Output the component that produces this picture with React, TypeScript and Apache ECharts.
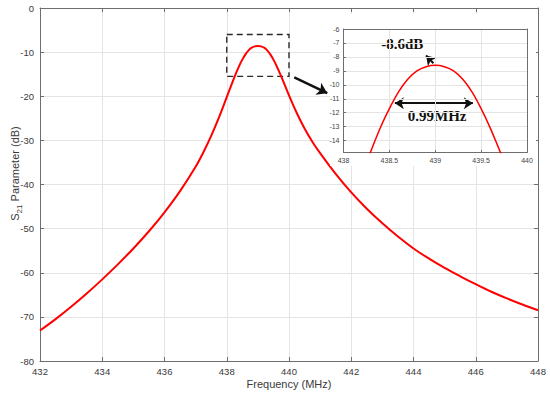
import React, { useEffect, useRef } from "react";
import * as echarts from "echarts";

// ---- data ----
const FREQ = [
  432.0, 432.5, 433.0, 433.5, 434.0, 434.5, 435.0, 435.5, 436.0, 436.5, 437.0, 437.25, 437.5, 437.75,
  438.0, 438.25, 438.4, 438.5, 438.6, 438.7, 438.8, 438.9, 439.0, 439.1, 439.2, 439.3, 439.4, 439.5,
  439.6, 439.75, 440.0, 440.25, 440.5, 440.75, 441.0, 441.5, 442.0, 442.5, 443.0, 443.5, 444.0,
  444.5, 445.0, 445.5, 446.0, 446.5, 447.0, 447.5, 448.0,
];
const S21 = [
  -73.1, -70.5, -67.7, -64.7, -61.5, -58.1, -54.5, -50.6, -46.3, -41.5, -36.0, -32.7, -29.0, -24.8,
  -20.2, -15.6, -13.1, -11.7, -10.5, -9.6, -9.0, -8.7, -8.6, -8.7, -9.0, -9.6, -10.5, -11.7,
  -13.1, -15.5, -19.8, -23.8, -27.3, -30.3, -32.9, -37.6, -41.8, -45.5, -48.8, -51.8, -54.5,
  -56.8, -58.9, -60.8, -62.6, -64.3, -65.8, -67.2, -68.5,
];

const MAIN_X = [432, 448, 2];
const MAIN_Y = [-80, 0, 10];
const INSET_X = [438, 440, 0.5];
const INSET_Y = [-14.85, -6];
const INSET_Y_TICKS = [-14, -13, -12, -11, -10, -9, -8, -7, -6];
const ZOOM_BOX = [438, 440, -6, -15.5];
const ZOOM_ARROW = [[440.17, -15.7], [441.23, -19.3]];
const PEAK_ARROW = [[438.98, -8.45], [438.9, -7.9]];
const BW_ARROW = [[438.56, -11.32], [439.41, -11.32]];
const PEAK_LABEL = { text: "-8.6dB", at: [438.64, -7.1] };
const BW_LABEL = { text: "0.99MHz", at: [439.02, -12.23] };

const SANS = "'Liberation Sans', Arial, sans-serif";
const SERIF = "'Liberation Serif', 'Times New Roman', serif";
const AXIS = "#6e6e6e";
const GRIDC = "#e4e4e4";
const TXT = "#3a3a3a";

export default function App() {
  const ref = useRef<HTMLDivElement>(null);
  useEffect(() => {
    if (!ref.current) return;
    const chart = echarts.init(ref.current, undefined, { renderer: "svg" });
    const pts = FREQ.map((f, i) => [f, S21[i]]);

    const mainAxisCommon = {
      axisLine: { show: true, onZero: false, lineStyle: { color: AXIS, width: 1 } },
      axisTick: { show: true, inside: true, length: 4, lineStyle: { color: AXIS } },
    };
    const insetAxisCommon = {
      axisLine: { show: true, onZero: false, lineStyle: { color: AXIS, width: 1 } },
      axisTick: { show: true, inside: true, length: 2.5, lineStyle: { color: AXIS } },
    };

    chart.setOption({
      animation: false,
      backgroundColor: "#fff",
      grid: [
        { left: 40, top: 8, width: 498, height: 353, show: false, containLabel: false, outerBoundsMode: "none" },
        { left: 343.5, top: 29, width: 183.5, height: 123.5, show: false, z: 10, containLabel: false, outerBoundsMode: "none" },
      ],
      xAxis: [
        {
          type: "value", gridIndex: 0, position: "bottom", min: MAIN_X[0], max: MAIN_X[1], interval: MAIN_X[2],
          ...mainAxisCommon,
          axisLabel: { color: TXT, fontSize: 9.5, fontFamily: SANS, margin: 5 },
          splitLine: { show: true, lineStyle: { color: GRIDC, width: 1 } },
          name: "Frequency (MHz)", nameLocation: "middle", nameGap: 17, nameMoveOverlap: false,
          nameTextStyle: { color: TXT, fontSize: 11, fontFamily: SANS },
        },
        {
          type: "value", gridIndex: 0, position: "top", min: MAIN_X[0], max: MAIN_X[1], interval: MAIN_X[2],
          ...mainAxisCommon, axisLabel: { show: false }, splitLine: { show: false },
        },
        {
          type: "value", gridIndex: 1, position: "bottom", min: INSET_X[0], max: INSET_X[1], interval: INSET_X[2],
          ...insetAxisCommon, z: 10,
          axisLabel: { color: "#444", fontSize: 7, fontFamily: SANS, margin: 4 },
          splitLine: { show: true, lineStyle: { color: GRIDC, width: 1 } },
        },
        {
          type: "value", gridIndex: 1, position: "top", min: INSET_X[0], max: INSET_X[1], interval: INSET_X[2],
          ...insetAxisCommon, z: 10, axisTick: { show: false }, axisLabel: { show: false }, splitLine: { show: false },
        },
      ],
      yAxis: [
        {
          type: "value", gridIndex: 0, position: "left", min: MAIN_Y[0], max: MAIN_Y[1], interval: MAIN_Y[2],
          ...mainAxisCommon,
          axisLabel: { color: TXT, fontSize: 9.5, fontFamily: SANS, margin: 6 },
          splitLine: { show: true, lineStyle: { color: GRIDC, width: 1 } },
          name: "{s|S}{sub|21}{s| Parameter (dB)}", nameLocation: "middle", nameGap: 17, nameRotate: 90,
          nameMoveOverlap: false,
          nameTextStyle: {
            color: TXT, fontFamily: SANS, padding: [0, 0, 0, 22],
            rich: {
              s: { fontSize: 11, color: TXT, fontFamily: SANS, lineHeight: 16, verticalAlign: "middle" },
              sub: { fontSize: 8, color: TXT, fontFamily: SANS, lineHeight: 16, verticalAlign: "bottom" },
            },
          },
        },
        {
          type: "value", gridIndex: 0, position: "right", min: MAIN_Y[0], max: MAIN_Y[1], interval: MAIN_Y[2],
          ...mainAxisCommon, axisLabel: { show: false }, splitLine: { show: false },
        },
        {
          type: "value", gridIndex: 1, position: "left", min: INSET_Y[0], max: INSET_Y[1],
          ...insetAxisCommon, z: 10,
          axisTick: { show: true, inside: true, length: 2.5, lineStyle: { color: AXIS }, customValues: INSET_Y_TICKS },
          axisLabel: { color: "#444", fontSize: 7, fontFamily: SANS, margin: 4, customValues: INSET_Y_TICKS },
          splitLine: { show: true, lineStyle: { color: GRIDC, width: 1 } },
        },
        {
          type: "value", gridIndex: 1, position: "right", min: INSET_Y[0], max: INSET_Y[1],
          ...insetAxisCommon, z: 10, axisTick: { show: false }, axisLabel: { show: false }, splitLine: { show: false },
        },
      ],
      graphic: [
        { type: "rect", z: 5, silent: true, shape: { x: 330, y: 14, width: 206, height: 152 }, style: { fill: "#fff" } },
      ],
      series: [
        {
          type: "line", xAxisIndex: 0, yAxisIndex: 0, data: pts, smooth: 0.35, symbol: "none", silent: true, z: 3,
          lineStyle: { color: "#ff0000", width: 2 },
          markArea: {
            silent: true,
            itemStyle: { color: "rgba(0,0,0,0)", borderColor: "#2a2a2a", borderWidth: 1.4, borderType: [6, 4] },
            data: [[{ coord: [ZOOM_BOX[0], ZOOM_BOX[2]] }, { coord: [ZOOM_BOX[1], ZOOM_BOX[3]] }]],
          },
          markLine: {
            silent: true, symbolSize: 10, label: { show: false },
            lineStyle: { color: "#111", width: 2.5, type: "solid" },
            data: [[{ coord: ZOOM_ARROW[0], symbol: "none" }, { coord: ZOOM_ARROW[1], symbol: "arrow" }]],
          },
        },
        {
          type: "line", xAxisIndex: 2, yAxisIndex: 2, data: pts, smooth: 0.35, symbol: "none", silent: true, z: 12,
          clip: true, lineStyle: { color: "#ff0000", width: 1.5 },
          markLine: {
            silent: true, symbolSize: 9, label: { show: false },
            lineStyle: { color: "#111", width: 2, type: "solid" },
            data: [
              [{ coord: PEAK_ARROW[0], symbol: "none" }, { coord: PEAK_ARROW[1], symbol: "arrow" }],
              [{ coord: BW_ARROW[0], symbol: "arrow" }, { coord: BW_ARROW[1], symbol: "arrow" }],
            ],
          },
          markPoint: {
            silent: true, symbol: "circle", symbolSize: 1, itemStyle: { color: "rgba(0,0,0,0)" },
            label: { show: true, position: "inside", color: "#111", fontFamily: SERIF, fontWeight: "bold", fontSize: 15 },
            data: [
              { coord: PEAK_LABEL.at, label: { formatter: PEAK_LABEL.text } },
              { coord: BW_LABEL.at, label: { formatter: BW_LABEL.text } },
            ],
          },
        },
      ],
    });
    return () => chart.dispose();
  }, []);
  return <div ref={ref} style={{ width: 550, height: 394, position: "absolute", left: 0, top: 0 }} />;
}
